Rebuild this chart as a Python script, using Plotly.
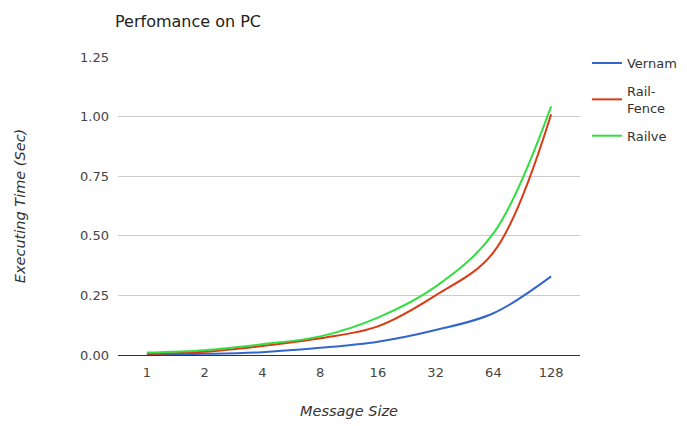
import plotly.graph_objects as go

sizes = ["1", "2", "4", "8", "16", "32", "64", "128"]
vernam = [0.002, 0.005, 0.012, 0.030, 0.056, 0.105, 0.175, 0.330]
rail_fence = [0.005, 0.014, 0.038, 0.070, 0.120, 0.250, 0.430, 1.010]
railve = [0.010, 0.020, 0.045, 0.078, 0.157, 0.287, 0.510, 1.043]
y_ticks = [0, 0.25, 0.5, 0.75, 1.0, 1.25]

font_family = "DejaVu Sans, sans-serif"
fig = go.Figure()
for i, (name, vals, color) in enumerate([
    ("Vernam", vernam, "#3366cc"),
    ("Rail-<br>Fence", rail_fence, "#dc3912"),
    ("Railve", railve, "#33dd44"),
]):
    fig.add_trace(go.Scatter(
        x=list(range(len(sizes))), y=vals, name=name, mode="lines",
        legendgroup=f"g{i}",
        line=dict(color=color, width=2, shape="spline", smoothing=1.0),
    ))

# page is offset by 8px body margin; margins compensate
fig.update_layout(
    width=687, height=426,
    margin=dict(l=108, r=115, t=49, b=79),
    paper_bgcolor="white", plot_bgcolor="white",
    font=dict(family=font_family, color="#444", size=13),
    title=dict(text="Perfomance on PC", x=107/687, xanchor="left", y=1-13/426, yanchor="middle",
               font=dict(size=16, color="#222", family=font_family)),
    legend=dict(x=1.015, xanchor="left", y=1.03, yanchor="top",
                font=dict(size=13, color="#333"), tracegroupgap=8,
                bgcolor="rgba(0,0,0,0)"),
    showlegend=True,
)
fig.update_xaxes(
    tickmode="array", tickvals=list(range(len(sizes))), ticktext=sizes,
    range=[-0.5, 7.5], showgrid=False, zeroline=False, showline=False,
    ticks="", ticklabelstandoff=8,
    title=dict(text="<i>Message Size</i>", standoff=26, font=dict(size=14.5, color="#333")),
)
fig.update_yaxes(
    range=[0, 1.25], tickvals=y_ticks, tickformat=".2f",
    showgrid=True, gridcolor="#cccccc", gridwidth=1,
    zeroline=True, zerolinecolor="#333", zerolinewidth=1,
    showline=False, ticks="", ticklabelstandoff=8,
    title=dict(text="<i>Executing Time (Sec)</i>", standoff=50, font=dict(size=14.5, color="#333")),
)
fig.write_html("out.html")
